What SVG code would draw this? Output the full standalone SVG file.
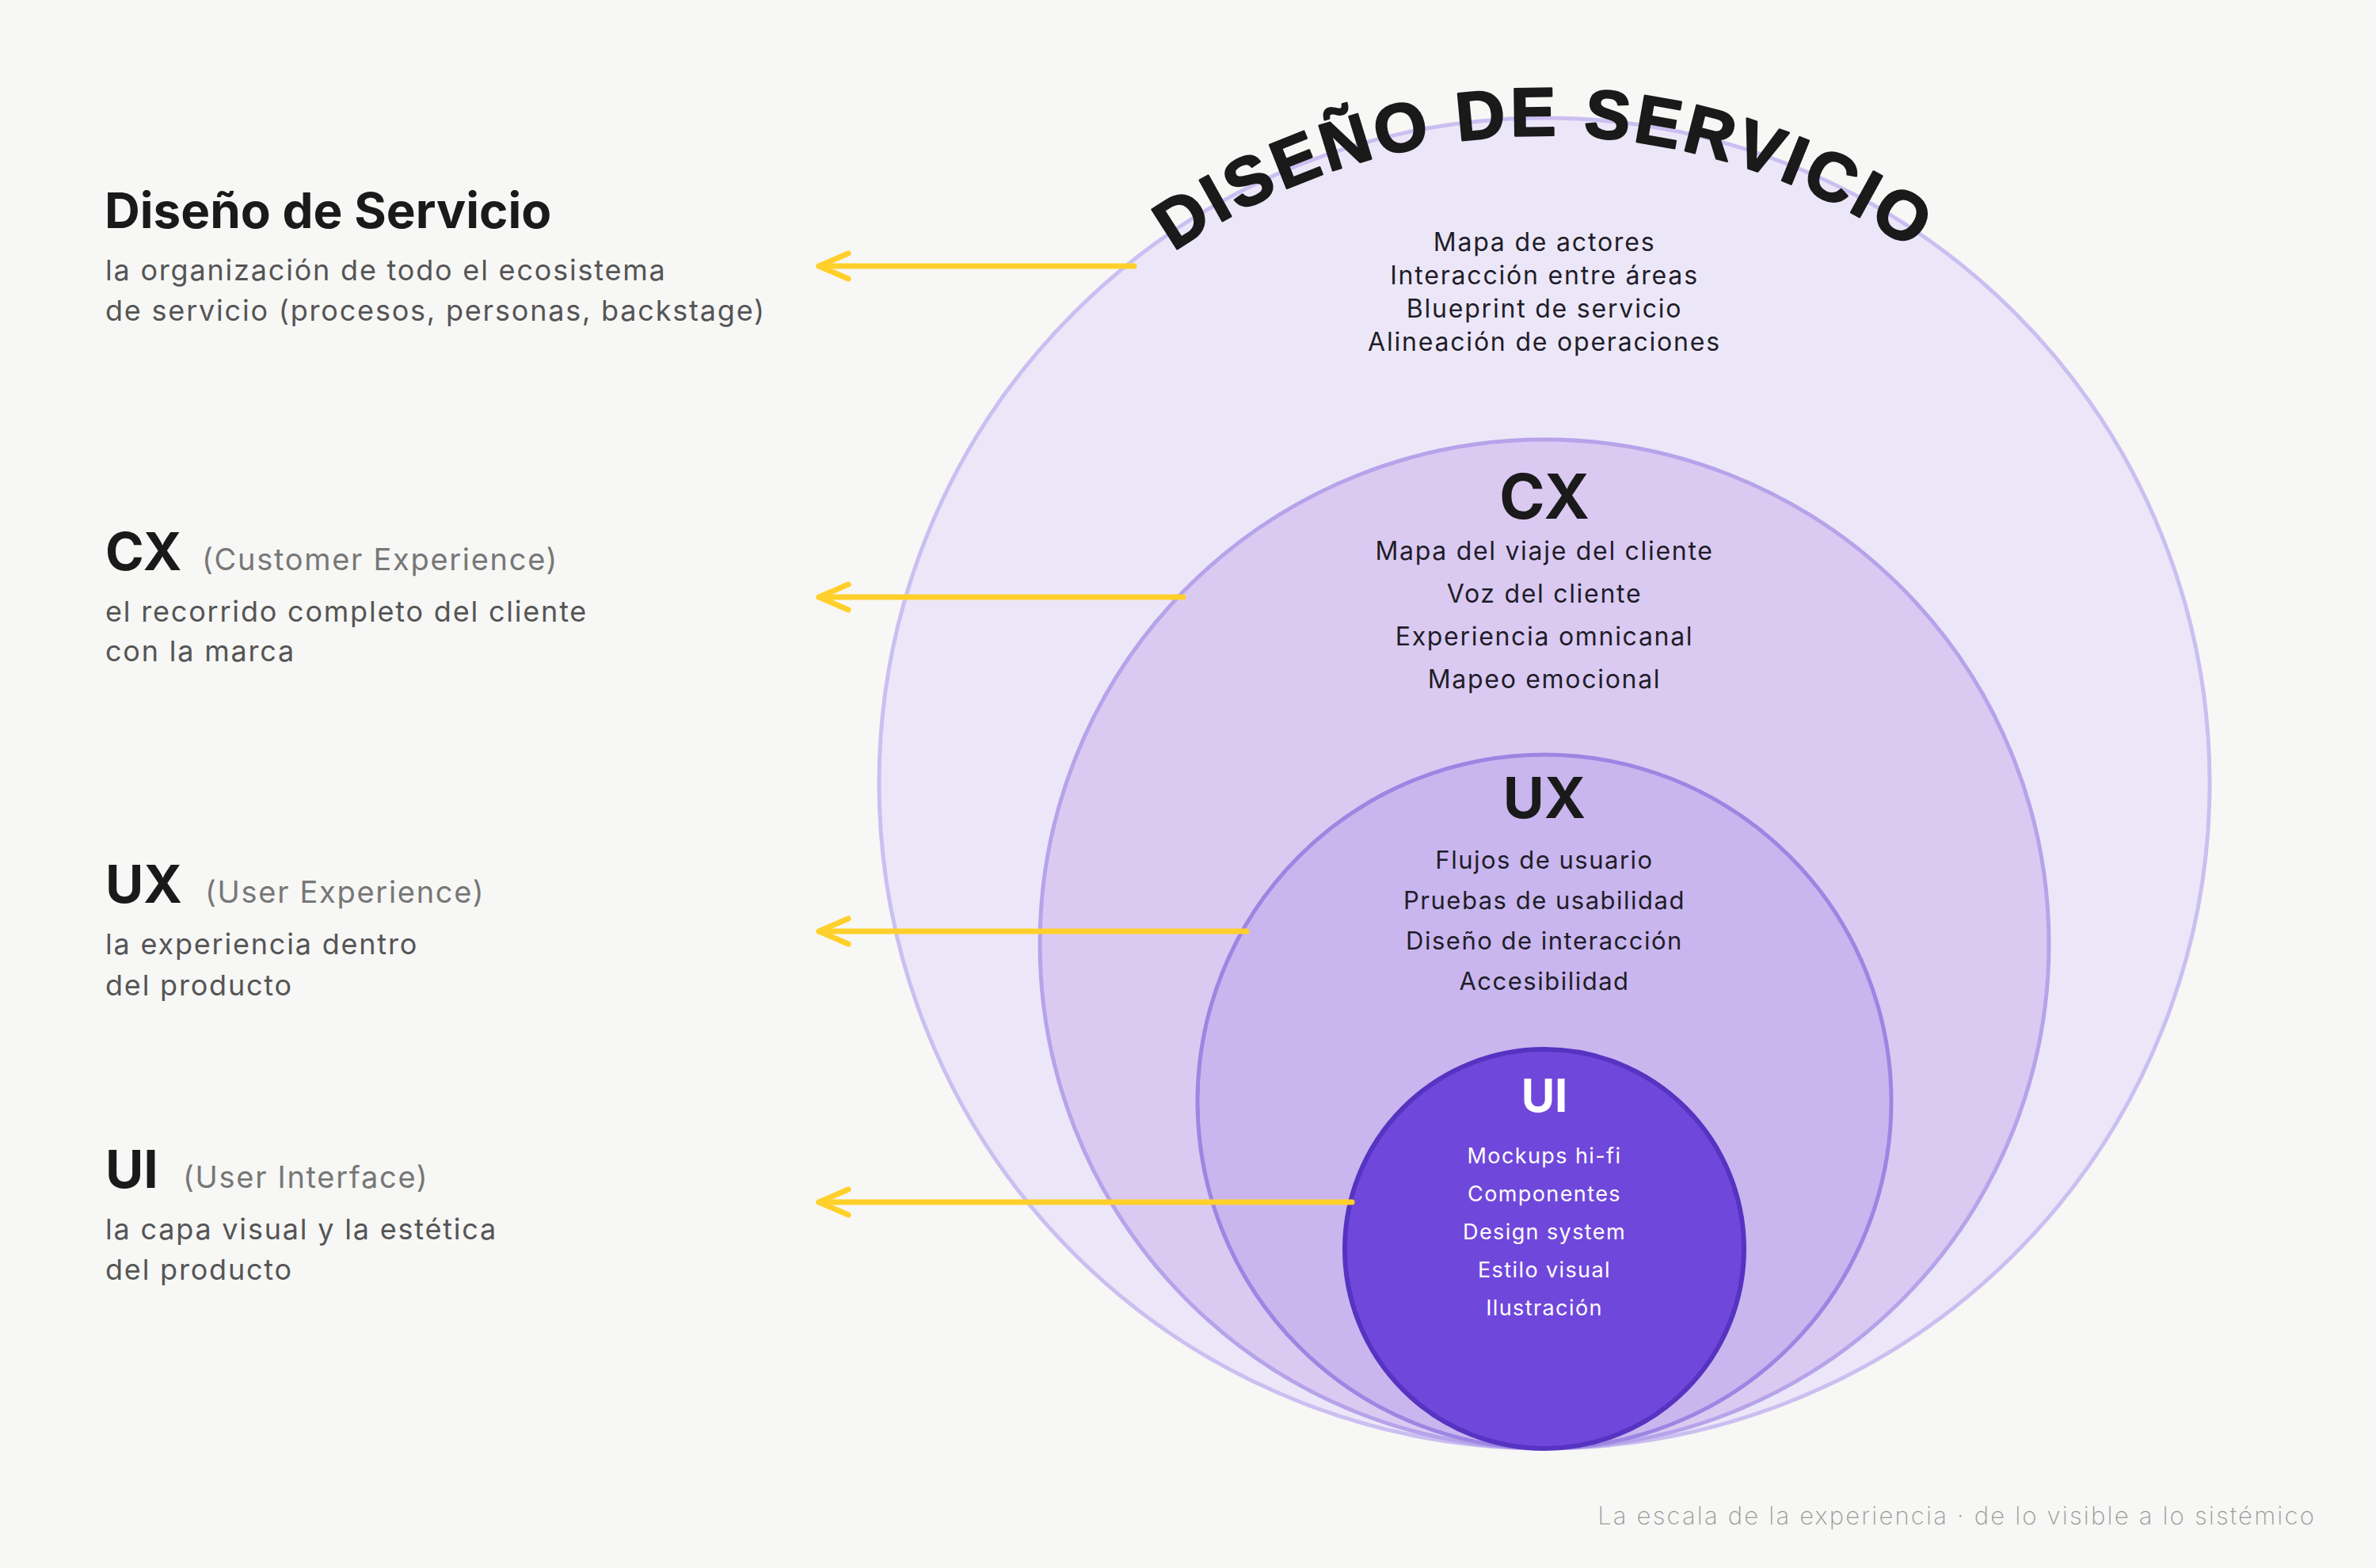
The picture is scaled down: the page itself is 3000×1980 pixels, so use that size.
<svg xmlns="http://www.w3.org/2000/svg" width="3000" height="1980" viewBox="0 0 3000 1980">
  <style>
    .bg { fill: #f7f7f5; }
    .c-serv { fill: #ece7f8; stroke: #cbbff1; stroke-width: 5; }
    .c-cx { fill: #dacaf2; stroke: #b6a3ea; stroke-width: 5; }
    .c-ux { fill: #c9b6ef; stroke: #9c86e2; stroke-width: 5; }
    .c-ui { fill: #7047db; stroke: #5633c1; stroke-width: 6; }
    text { font-family: "Inter", "Liberation Sans", "DejaVu Sans", sans-serif; }
    .arc-title { font-family: "Liberation Sans", "Inter", sans-serif; font-weight: 700; font-size: 86px; fill: #1a1a1a; stroke: #1a1a1a; stroke-width: 2.5px; stroke-linejoin: round; letter-spacing: 5px; }
    .item { text-anchor: middle; fill: #1f1d29; }
    .i-serv { font-size: 32px; letter-spacing: 1.8px; }
    .i-cx { font-size: 32px; letter-spacing: 1.7px; }
    .i-ux { font-size: 31px; letter-spacing: 1.5px; }
    .i-ui { font-size: 27px; letter-spacing: 1.4px; fill: #ffffff; }
    .ctitle { text-anchor: middle; font-weight: 700; fill: #1a1a1a; }
    .ctitle-w { text-anchor: middle; font-weight: 700; fill: #ffffff; }
    .lh { font-weight: 700; font-size: 62px; fill: #1a1a1a; }
    .lh2 { font-weight: 700; font-size: 66px; fill: #1a1a1a; }
    .lp { font-size: 38px; letter-spacing: 1.7px; fill: #777777; }
    .ld { font-size: 36px; letter-spacing: 1.8px; fill: #555555; }
    .footer { font-size: 31px; font-weight: 200; letter-spacing: 2.2px; fill: #9a9a9a; text-anchor: end; }
    .conn { fill: none; stroke: #ffd02b; stroke-width: 7; stroke-linecap: round; stroke-linejoin: round; }
  </style>
  <defs>
    <path id="title-arc" d="M 1132 989 A 818 818 0 0 1 2768 989"/>
    <marker id="arrowhead" markerUnits="userSpaceOnUse" orient="auto" overflow="visible" refX="0" refY="0" markerWidth="1" markerHeight="1">
      <path d="M -37 -16 L 0 0 L -37 16" fill="none" stroke="#ffd02b" stroke-width="7" stroke-linecap="round" stroke-linejoin="round"/>
    </marker>
  </defs>

  <rect class="bg" x="0" y="0" width="3000" height="1980"/>

  <g id="node-servicio">
    <circle class="c-serv" cx="1950" cy="989" r="840"/>
    <text class="arc-title"><textPath href="#title-arc" startOffset="50%" text-anchor="middle">DISEÑO DE SERVICIO</textPath></text>
    <text class="item i-serv" x="1950" y="317">Mapa de actores</text>
    <text class="item i-serv" x="1950" y="359">Interacción entre áreas</text>
    <text class="item i-serv" x="1950" y="401">Blueprint de servicio</text>
    <text class="item i-serv" x="1950" y="443">Alineación de operaciones</text>
  </g>

  <g id="node-cx">
    <circle class="c-cx" cx="1950" cy="1192" r="637"/>
    <text class="ctitle" x="1950" y="655" font-size="78">CX</text>
    <text class="item i-cx" x="1950" y="707">Mapa del viaje del cliente</text>
    <text class="item i-cx" x="1950" y="761">Voz del cliente</text>
    <text class="item i-cx" x="1950" y="815">Experiencia omnicanal</text>
    <text class="item i-cx" x="1950" y="869">Mapeo emocional</text>
  </g>

  <g id="node-ux">
    <circle class="c-ux" cx="1950" cy="1391" r="438"/>
    <text class="ctitle" x="1950" y="1033" font-size="71">UX</text>
    <text class="item i-ux" x="1950" y="1097">Flujos de usuario</text>
    <text class="item i-ux" x="1950" y="1148">Pruebas de usabilidad</text>
    <text class="item i-ux" x="1950" y="1199">Diseño de interacción</text>
    <text class="item i-ux" x="1950" y="1250">Accesibilidad</text>
  </g>

  <g id="node-ui">
    <circle class="c-ui" cx="1950" cy="1577" r="252"/>
    <text class="ctitle-w" x="1950" y="1404" font-size="58">UI</text>
    <text class="item i-ui" x="1950" y="1469">Mockups hi-fi</text>
    <text class="item i-ui" x="1950" y="1517">Componentes</text>
    <text class="item i-ui" x="1950" y="1565">Design system</text>
    <text class="item i-ui" x="1950" y="1613">Estilo visual</text>
    <text class="item i-ui" x="1950" y="1661">Ilustración</text>
  </g>

  <g id="connectors">
    <path class="conn" d="M 1432 336 L 1034 336" marker-end="url(#arrowhead)"/>
    <path class="conn" d="M 1494 754 L 1034 754" marker-end="url(#arrowhead)"/>
    <path class="conn" d="M 1574 1176 L 1034 1176" marker-end="url(#arrowhead)"/>
    <path class="conn" d="M 1707 1518 L 1034 1518" marker-end="url(#arrowhead)"/>
  </g>

  <g id="label-servicio">
    <text class="lh" x="132" y="288">Diseño de Servicio</text>
    <text class="ld" x="133" y="354">la organización de todo el ecosistema</text>
    <text class="ld" x="133" y="405">de servicio (procesos, personas, backstage)</text>
  </g>

  <g id="label-cx">
    <text class="lh2" x="133" y="720">CX</text>
    <text class="lp" x="255" y="720">(Customer Experience)</text>
    <text class="ld" x="133" y="785">el recorrido completo del cliente</text>
    <text class="ld" x="133" y="835">con la marca</text>
  </g>

  <g id="label-ux">
    <text class="lh2" x="133" y="1140">UX</text>
    <text class="lp" x="259" y="1140">(User Experience)</text>
    <text class="ld" x="133" y="1205">la experiencia dentro</text>
    <text class="ld" x="133" y="1257">del producto</text>
  </g>

  <g id="label-ui">
    <text class="lh2" x="133" y="1500">UI</text>
    <text class="lp" x="231" y="1500">(User Interface)</text>
    <text class="ld" x="133" y="1565">la capa visual y la estética</text>
    <text class="ld" x="133" y="1616">del producto</text>
  </g>

  <text class="footer" x="2924" y="1925">La escala de la experiencia · de lo visible a lo sistémico</text>
</svg>
